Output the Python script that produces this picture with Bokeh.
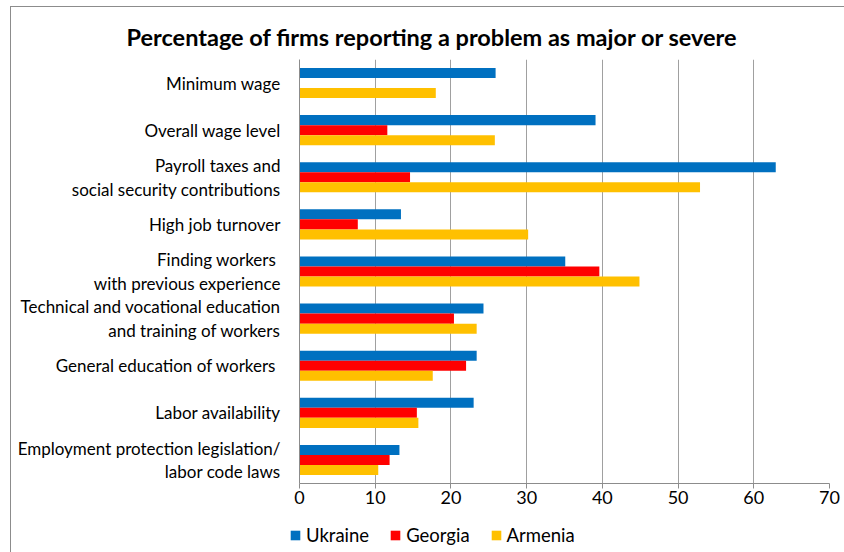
import math
from bokeh.plotting import figure
from bokeh.layouts import column
from bokeh.models import FactorRange, Range1d, Legend, LegendItem, ColumnDataSource, FixedTicker
from bokeh.transform import dodge
from bokeh.core.properties import value
from bokeh.embed import file_html
from bokeh.resources import INLINE

nan = float("nan")

categories = [
    "Minimum wage",
    "Overall wage level",
    "Payroll taxes and\nsocial security contributions",
    "High job turnover",
    "Finding  workers\nwith previous experience",
    "Technical and vocational education\nand training of workers",
    "General education of workers ",
    "Labor availability",
    "Employment protection legislation/\nlabor code laws",
]
series_names = ["Ukraine", "Georgia", "Armenia"]
ukraine = [25.9, 39.1, 62.9, 13.4, 35.1, 24.3, 23.4, 23.0, 13.2]
georgia = [nan, 11.6, 14.6, 7.7, 39.6, 20.4, 22.0, 15.5, 11.9]
armenia = [18.0, 25.8, 52.9, 30.2, 44.9, 23.4, 17.6, 15.7, 10.4]
x_ticks = [0, 10, 20, 30, 40, 50, 60, 70]
title_text = "Percentage of firms reporting a problem as major or severe"

colors = ["#0070C0", "#FF0000", "#FFC000"]
FONT = "Lato"
FRAME_GRAY = "#8C8C8C"

source = ColumnDataSource(dict(cat=categories, Ukraine=ukraine, Georgia=georgia, Armenia=armenia))

p = figure(
    width=844, height=515,
    y_range=FactorRange(*reversed(categories)),
    x_range=Range1d(0, 70),
    output_backend="svg", toolbar_location=None,
    min_border_left=299, min_border_right=15, min_border_top=59, min_border_bottom=32,
)
p.border_fill_color = None
p.background_fill_color = "#FFFFFF"

bar_h = 0.213
offsets = [bar_h, 0.0, -bar_h]
for name, col, off in zip(series_names, colors, offsets):
    p.hbar(y=dodge("cat", off, range=p.y_range), right=name, left=0, height=bar_h,
           source=source, fill_color=col, line_color=None)

# title
p.title.text = title_text
p.title.text_font = FONT
p.title.text_font_style = "bold"
p.title.text_font_size = "23.5px"
p.title.align = "left"
p.title.offset = -173
p.title.standoff = 18
p.title.text_color = "#000000"

# axes
p.xaxis.ticker = FixedTicker(ticks=x_ticks)
p.xaxis.major_label_text_font = FONT
p.xaxis.major_label_text_font_size = "18px"
p.xaxis.major_label_text_color = "#000000"
p.xaxis.axis_line_color = FRAME_GRAY
p.xaxis.major_tick_line_color = FRAME_GRAY
p.xaxis.major_tick_out = 5
p.xaxis.major_tick_in = 0
p.xaxis.minor_tick_line_color = None
p.xaxis.major_label_standoff = 2

p.yaxis.major_label_text_font = FONT
p.yaxis.major_label_text_font_size = "17px"
p.yaxis.major_label_text_color = "#000000"
p.yaxis.major_label_text_line_height = 1.12
p.yaxis.axis_line_color = FRAME_GRAY
p.yaxis.major_tick_line_color = None
p.yaxis.major_tick_out = 0
p.yaxis.major_tick_in = 0
p.yaxis.major_label_standoff = 19

p.xgrid.grid_line_color = "#A0A0A0"
p.xgrid.grid_line_width = 1
p.ygrid.grid_line_color = None
p.outline_line_color = None

p.styles = {
    "background": (
        f"linear-gradient({FRAME_GRAY}, {FRAME_GRAY}) 10px 6px / 1px 100% no-repeat, "
        f"linear-gradient({FRAME_GRAY}, {FRAME_GRAY}) 10px 6px / 100% 1px no-repeat, #FFFFFF"
    )
}

# legend strip below the chart
pl = figure(
    width=844, height=37,
    x_range=Range1d(0, 1), y_range=Range1d(0, 1),
    output_backend="svg", toolbar_location=None,
    min_border=0,
)
legend_x = 289
try:
    pl.frame_align = False
except AttributeError:
    pl.min_border_left = 299
    pl.min_border_right = 15
    legend_x = 0
pl.axis.visible = False
pl.grid.visible = False
pl.outline_line_color = None
pl.border_fill_color = None
pl.background_fill_color = None
legend_renderers = []
for name, col in zip(series_names, colors):
    # swatch-only renderers placed outside the visible range
    r = pl.hbar(y=[-5], right=[-5], left=[-6], height=0.1, fill_color=col, line_color=None)
    legend_renderers.append(r)

legend = Legend(
    items=[LegendItem(label=n, renderers=[r]) for n, r in zip(series_names, legend_renderers)],
    orientation="horizontal",
    location=(legend_x, 6),
    border_line_color=None,
    background_fill_alpha=0,
    label_text_font=FONT,
    label_text_font_size="18.5px",
    label_text_color="#000000",
    glyph_width=12, glyph_height=12,
    label_standoff=5,
    spacing=20,
    padding=0,
    margin=0,
)
pl.add_layout(legend)
pl.styles = {
    "background": f"linear-gradient({FRAME_GRAY}, {FRAME_GRAY}) 10px 0px / 1px 100% no-repeat, #FFFFFF"
}

layout = column(p, pl, spacing=0)

open("out.html", "w").write(file_html(layout, INLINE))
